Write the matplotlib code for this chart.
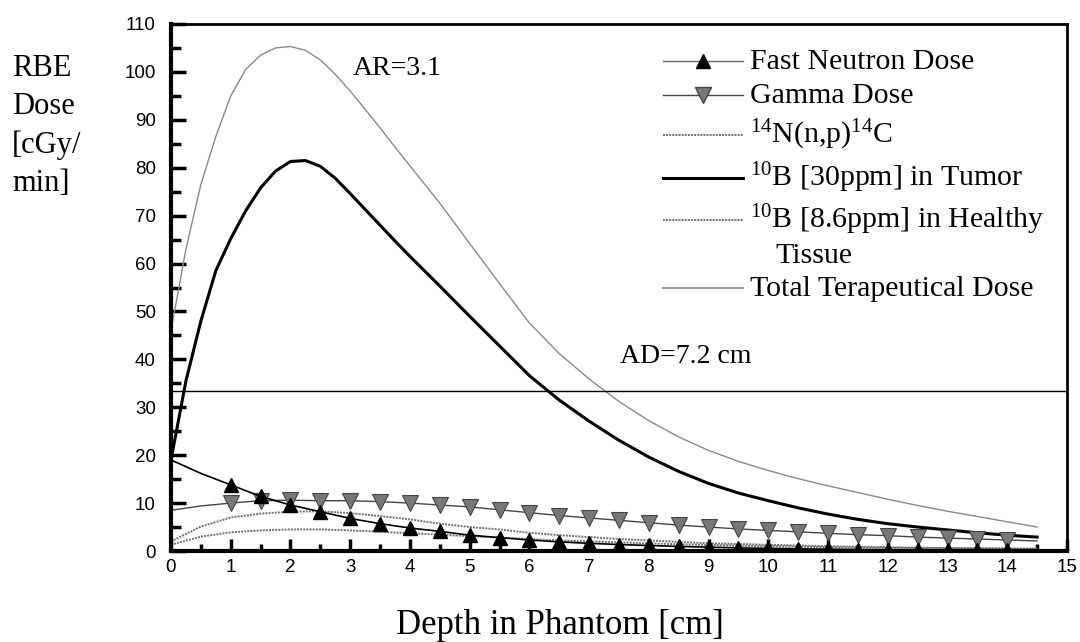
import numpy as np
import matplotlib
matplotlib.use('Agg')
import matplotlib.pyplot as plt
from matplotlib.lines import Line2D
from matplotlib.ticker import MultipleLocator

plt.rcParams['mathtext.fontset'] = 'custom'
plt.rcParams['mathtext.rm'] = 'Liberation Serif'
plt.rcParams['mathtext.it'] = 'Liberation Serif:italic'
plt.rcParams['mathtext.default'] = 'regular'

depth = np.arange(0, 15, 0.5)  # 0 .. 14.5 cm

fast_neutron = [19.0, 16.2, 13.8, 11.4, 9.6, 8.2, 6.8, 5.7, 4.8, 4.1,
                3.3, 2.8, 2.3, 1.9, 1.6, 1.35, 1.15, 0.95, 0.8, 0.65,
                0.55, 0.45, 0.38, 0.3, 0.25, 0.2, 0.17, 0.14, 0.12, 0.1]
gamma = [8.5, 9.4, 10.0, 10.5, 10.6, 10.5, 10.5, 10.3, 10.0, 9.6,
         9.2, 8.6, 8.0, 7.4, 6.9, 6.4, 5.9, 5.4, 5.0, 4.6,
         4.3, 4.0, 3.7, 3.4, 3.2, 2.9, 2.7, 2.5, 2.3, 2.1]
n14 = [1.3, 3.0, 3.9, 4.3, 4.5, 4.5, 4.3, 4.0, 3.7, 3.4,
       3.1, 2.8, 2.5, 2.2, 2.0, 1.8, 1.6, 1.4, 1.25, 1.1,
       1.0, 0.9, 0.8, 0.7, 0.65, 0.6, 0.55, 0.5, 0.45, 0.4]
b10_healthy = [2.0, 5.1, 7.0, 7.8, 8.2, 8.3, 7.9, 7.3, 6.6, 5.7,
               5.0, 4.5, 3.8, 3.3, 2.9, 2.5, 2.2, 1.9, 1.6, 1.45,
               1.3, 1.15, 1.0, 0.9, 0.8, 0.7, 0.65, 0.6, 0.55, 0.5]

# tumour and total curves read on a finer step near the peak
depth_fine = [0, 0.25, 0.5, 0.75, 1.0, 1.25, 1.5, 1.75, 2.0, 2.25, 2.5, 2.75,
              3.0, 3.25, 3.5, 3.75, 4.0, 4.5, 5.0, 5.5, 6.0, 6.5, 7.0, 7.5,
              8.0, 8.5, 9.0, 9.5, 10.0, 10.5, 11.0, 11.5, 12.0, 12.5, 13.0,
              13.5, 14.0, 14.5]
b10_tumor = [19.0, 35.5, 48.0, 58.5, 65.2, 71.0, 75.8, 79.3, 81.3, 81.5, 80.3, 77.8,
             74.6, 71.3, 68.0, 64.7, 61.5, 55.3, 49.0, 42.8, 36.6, 31.5, 27.1, 23.1,
             19.6, 16.6, 14.1, 12.1, 10.5, 9.0, 7.7, 6.6, 5.7, 5.0, 4.4,
             3.8, 3.3, 2.9]
total = [46.0, 63.0, 76.5, 86.5, 95.0, 100.5, 103.5, 105.0, 105.3, 104.5, 102.5, 99.5,
         96.0, 92.2, 88.3, 84.3, 80.4, 72.6, 64.2, 55.8, 47.6, 41.2, 35.9, 31.2,
         27.2, 23.8, 21.0, 18.7, 16.8, 15.1, 13.6, 12.2, 10.8, 9.5, 8.3,
         7.2, 6.1, 5.0]

ad_level = 33.3
serif = 'Liberation Serif'
W, H = 1080, 642

fig = plt.figure(figsize=(10.8, 6.42), dpi=100)
ax = fig.add_axes([171/W, 1 - 551/H, (1067-171)/W, (551-24)/H])

marks = slice(2, 29)
ax.plot(depth_fine, total, color='#8a8a8a', lw=1.0)
ax.plot(depth_fine, b10_tumor, color='black', lw=2.2)
ax.plot(depth, b10_healthy, color='#707070', lw=1.4, ls=(0, (1, 0.6)))
ax.plot(depth, n14, color='#707070', lw=1.4, ls=(0, (1, 0.6)))
ax.plot(depth, gamma, color='#444444', lw=1.0, marker='v', markevery=marks,
        ms=11, mfc='#787878', mec='#444444', mew=0.8)
ax.plot(depth, fast_neutron, color='black', lw=1.2, marker='^', markevery=marks,
        ms=10, mfc='black', mec='black')
ax.axhline(ad_level, color='black', lw=1.0)

ax.set_xlim(0, 15)
ax.set_ylim(0, 110)
ax.xaxis.set_major_locator(MultipleLocator(1))
ax.xaxis.set_minor_locator(MultipleLocator(0.5))
ax.yaxis.set_major_locator(MultipleLocator(10))
ax.yaxis.set_minor_locator(MultipleLocator(5))
ax.tick_params(which='both', direction='in', top=False, right=False,
               labelsize=13.5, width=2.5)
ax.tick_params(axis='y', which='major', length=11, pad=11)
ax.tick_params(axis='y', which='minor', length=7)
ax.tick_params(axis='x', which='major', length=9, pad=6)
ax.tick_params(axis='x', which='minor', length=5)
for lab in ax.get_xticklabels() + ax.get_yticklabels():
    lab.set_fontfamily('Liberation Sans')
ax.spines['left'].set_linewidth(3)
ax.spines['bottom'].set_linewidth(3)
ax.spines['top'].set_linewidth(2)
ax.spines['right'].set_linewidth(2)

ax.text(3.05, 100.8, 'AR=3.1', fontsize=20, family=serif, va='center')
ax.text(7.52, 40.5, 'AD=7.2 cm', fontsize=20, family=serif, va='center')

fig.text(12/W, 1 - 54/H, 'RBE\nDose\n[cGy/\nmin]', fontsize=22,
         family=serif, va='top', ha='left', linespacing=1.42)
fig.text(560/W, 1 - 626/H, 'Depth in Phantom [cm]', fontsize=25,
         family=serif, va='center', ha='center')

# legend drawn by hand so the rows sit where the original has them
legend_rows = [
    (61, 'Fast Neutron Dose', dict(color='#666666', lw=1.0, marker='^', ms=10, mfc='black', mec='black')),
    (95, 'Gamma Dose', dict(color='#444444', lw=1.0, marker='v', ms=11, mfc='#787878', mec='#444444')),
    (135, r'$^{14}$N(n,p)$^{14}$C', dict(color='#707070', lw=1.4, ls=(0, (1, 0.6)))),
    (178, r'$^{10}$B [30ppm] in Tumor', dict(color='black', lw=2.2)),
    (220, r'$^{10}$B [8.6ppm] in Healthy', dict(color='#707070', lw=1.4, ls=(0, (1, 0.6)))),
    (288, 'Total Terapeutical Dose', dict(color='#8a8a8a', lw=1.2)),
]
for y, label, style in legend_rows:
    fy = 1 - y/H
    fig.add_artist(Line2D([663/W, 703/W, 743/W], [fy, fy, fy], transform=fig.transFigure,
                          markevery=[1], **style))
    fig.text(750/W, 1 - (y + 8)/H, label, fontsize=21.5, family=serif, va='baseline')
fig.text(775/W, 1 - (255 + 8)/H, 'Tissue', fontsize=21.5, family=serif, va='baseline')

fig.savefig('out.png', dpi=100)
